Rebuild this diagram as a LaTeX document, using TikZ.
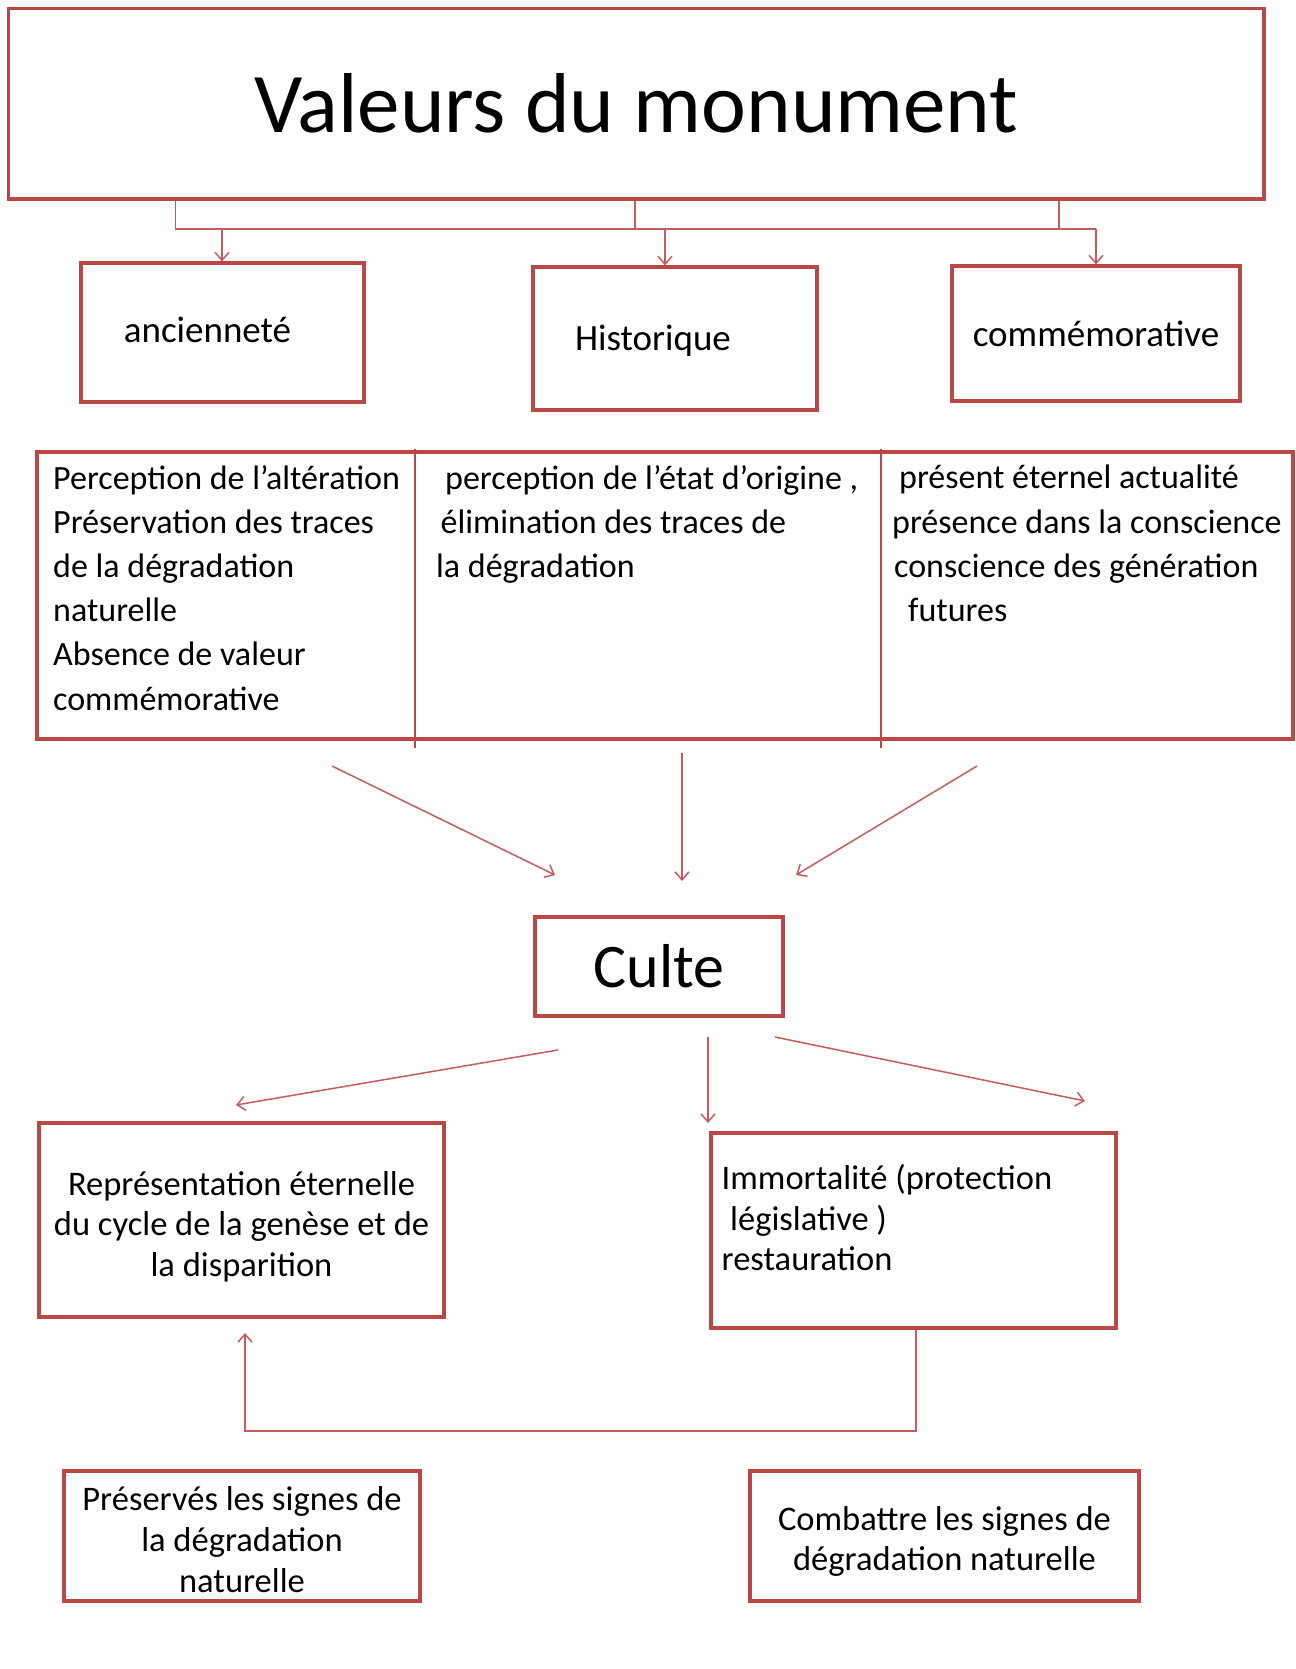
\documentclass[tikz,border=0pt]{standalone}
\usepackage{fontspec}
\setmainfont{Carlito}
\usetikzlibrary{arrows.meta}
\definecolor{bred}{RGB}{188,72,70}
\definecolor{lred}{RGB}{200,92,90}
\begin{document}
\begin{tikzpicture}[x=1pt,y=-1pt,
  box/.style={draw=bred,line width=3.2pt,inner sep=0pt,fill=white},
  conn/.style={draw=lred,line width=1.5pt},
  arr/.style={conn,-{Straight Barb[length=8pt,width=14pt]}},
  tabtxt/.style={font=\fontsize{34}{44.2}\selectfont,align=left,anchor=north west,inner sep=0pt},
  lowfont/.style={font=\fontsize{34.5}{40.7}\selectfont},
  midfont/.style={font=\fontsize{37}{44}\selectfont}]
\useasboundingbox[fill=white] (0,0) rectangle (1295,1669);

% top
\node[box,minimum width=1255.5pt,minimum height=190.5pt,font=\fontsize{85}{100}\selectfont] (top) at (636.25,103.75) {Valeurs du monument};

% three value boxes
\node[box,minimum width=283pt,minimum height=139pt] (anc) at (222.5,332.5) {};
\node[midfont,inner sep=0pt] (anct) at (207.5,330) {ancienneté};
\node[box,minimum width=284pt,minimum height=143pt] (hist) at (675,338.5) {};
\node[midfont,inner sep=0pt] (histt) at (653,341) {Historique};
\node[box,minimum width=288pt,minimum height=135pt,midfont] (comm) at (1096,333.5) {commémorative};

% connectors from top
\coordinate (jl) at (175.6,229);
\coordinate (jm) at (635,229);
\coordinate (jr) at (1059,229);
\coordinate (ja) at (222,229);
\coordinate (jh) at (665,229);
\coordinate (jc) at (1096,229);
\draw[conn] (top.south -| jl) -- (jl) -- (jc);
\draw[conn] (top.south -| jm) -- (jm);
\draw[conn] (top.south -| jr) -- (jr);
\draw[arr] (ja) -- (ja |- anc.north);
\draw[arr] (jh) -- (jh |- hist.north);
\draw[arr] (jc) -- (jc |- comm.north);

% table
\node[box,minimum width=1256pt,minimum height=287pt] (tab) at (665,595.5) {};
\coordinate (d1t) at (415,449);
\coordinate (d1b) at (415,748);
\coordinate (d2t) at (881,449);
\coordinate (d2b) at (881,748);
\draw[draw=bred,line width=1.5pt] (d1t) -- (d1b);
\draw[draw=bred,line width=1.5pt] (d2t) -- (d2b);
\node[tabtxt] (c1) at (53,465) {Perception de l’altération\\Préservation des traces\\de la dégradation\\naturelle\\Absence de valeur\\commémorative};
\node[tabtxt] (c2) at (436,465) {\hspace*{9pt}perception de l’état d’origine ,\\\hspace*{4.5pt}élimination des traces de\\la dégradation};
\node[tabtxt] (c3) at (892,465) {\hspace*{7pt}présent éternel actualité\\présence dans la conscience\\\hspace*{2pt}conscience des génération\\\hspace*{16pt}futures};

% culte
\node[box,minimum width=248pt,minimum height=99pt,font=\fontsize{62}{70}\selectfont] (culte) at (659,966.5) {Culte};
\coordinate (u1s) at (332,766);
\coordinate (u1e) at (555,875);
\coordinate (u2s) at (682,753);
\coordinate (u2e) at (682,881);
\coordinate (u3s) at (977,766);
\coordinate (u3e) at (796,875);
\draw[arr] (u1s) -- (u1e);
\draw[arr] (u2s) -- (u2e);
\draw[arr] (u3s) -- (u3e);

% lower boxes
\node[box,minimum width=405pt,minimum height=194pt] (rep) at (241.5,1220) {};
\node[lowfont,align=center,inner sep=0pt] (rept) at (241.5,1226.5) {Représentation éternelle\\du cycle de la genèse et de\\la disparition};
\node[box,minimum width=405pt,minimum height=195pt] (imm) at (913.5,1230.5) {};
\node[lowfont,align=left,anchor=north west,inner sep=0pt] (immt) at (721.5,1164) {Immortalité (protection\\\hspace*{8.5pt}législative )\\restauration};

\coordinate (v1s) at (558,1050);
\coordinate (v1e) at (236,1105);
\coordinate (v2s) at (708,1037);
\coordinate (v2e) at (708,1123);
\coordinate (v3s) at (775,1037);
\coordinate (v3e) at (1085,1101);
\draw[arr] (v1s) -- (v1e);
\draw[arr] (v2s) -- (v2e);
\draw[arr] (v3s) -- (v3e);

% loop
\coordinate (l1) at (916,1431);
\coordinate (l2) at (245,1431);
\coordinate (l3) at (245,1333);
\draw[arr] (imm.south -| l1) -- (l1) -- (l2) -- (l3);

% bottom boxes
\node[box,minimum width=356pt,minimum height=130pt] (pres) at (242,1536) {};
\node[lowfont,align=center,inner sep=0pt] (prest) at (242,1539.5) {Préservés les signes de\\la dégradation\\naturelle};
\node[box,minimum width=389pt,minimum height=130pt] (comb) at (944.5,1536) {};
\node[lowfont,align=center,inner sep=0pt] (combt) at (944.5,1541.5) {Combattre les signes de\\dégradation naturelle};
\end{tikzpicture}
\end{document}
